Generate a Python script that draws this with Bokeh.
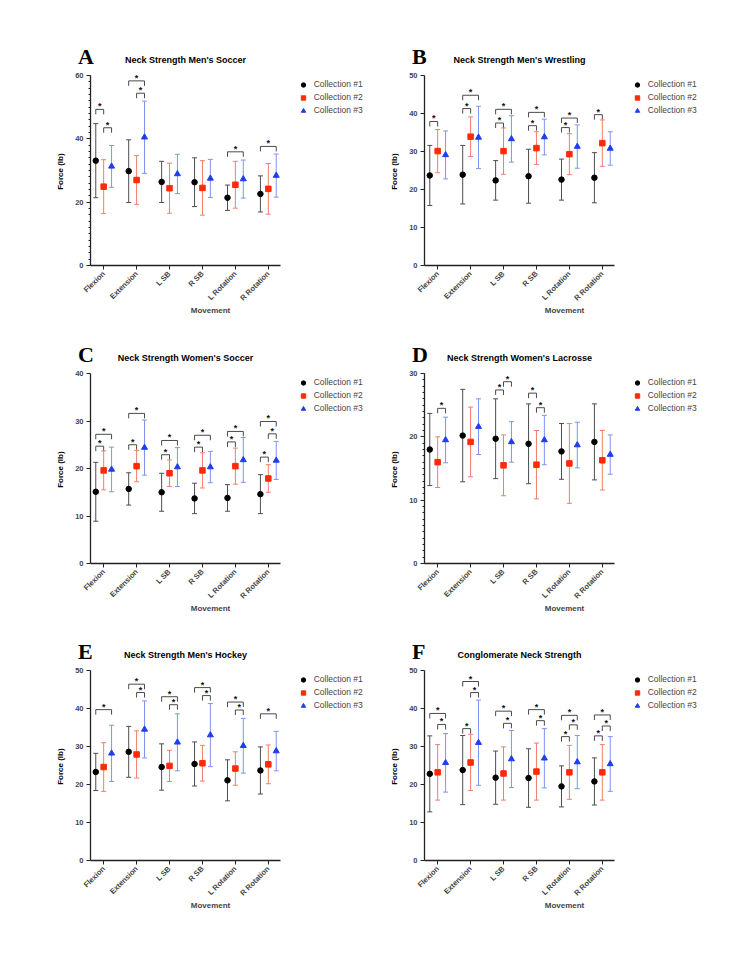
import math
from bokeh.plotting import figure
from bokeh.models import (ColumnDataSource, Legend, LegendItem, LinearAxis,
                          SingleIntervalTicker, FixedTicker, Range1d)
from bokeh.layouts import row, column
from bokeh.embed import file_html
from bokeh.resources import INLINE
from bokeh.core.properties import value

movements = ["Flexion", "Extension", "L SB", "R SB", "L Rotation", "R Rotation"]
collections = ["Collection #1", "Collection #2", "Collection #3"]

# ---- Panel A: Men's Soccer ----
A_c1_mean = [33.1, 29.8, 26.4, 26.3, 21.4, 22.6]
A_c1_sd = [11.7, 9.9, 6.5, 7.7, 4.0, 5.7]
A_c2_mean = [24.9, 27.0, 24.4, 24.5, 25.5, 24.2]
A_c2_sd = [8.5, 7.7, 7.9, 8.6, 7.4, 8.0]
A_c3_mean = [31.3, 40.5, 28.9, 27.5, 27.3, 28.4]
A_c3_sd = [6.6, 11.4, 6.2, 6.0, 6.0, 6.8]
A_brackets = [(0, 0, 1, 49.3), (0, 1, 2, 43.5), (1, 0, 2, 58.3), (1, 1, 2, 54.4),
              (4, 0, 2, 35.9), (5, 0, 2, 37.6)]

# ---- Panel B: Men's Wrestling ----
B_c1_mean = [23.7, 23.9, 22.4, 23.5, 22.6, 23.1]
B_c1_sd = [7.9, 7.7, 5.2, 7.1, 5.4, 6.6]
B_c2_mean = [30.1, 33.9, 30.1, 30.9, 29.3, 32.2]
B_c2_sd = [5.7, 5.2, 6.1, 4.3, 5.4, 6.1]
B_c3_mean = [29.1, 33.7, 33.3, 33.8, 31.3, 30.8]
B_c3_sd = [6.3, 8.2, 6.1, 4.7, 5.7, 4.4]
B_brackets = [(0, 0, 1, 37.9), (1, 0, 2, 44.8), (1, 0, 1, 41.3), (2, 0, 2, 41.1),
              (2, 0, 1, 37.5), (3, 0, 2, 40.3), (3, 0, 1, 36.8), (4, 0, 2, 38.8),
              (4, 0, 1, 36.3), (5, 0, 1, 39.7)]

# ---- Panel C: Women's Soccer ----
C_c1_mean = [15.1, 15.7, 15.0, 13.7, 13.8, 14.6]
C_c1_sd = [6.2, 3.4, 4.0, 3.2, 2.8, 4.1]
C_c2_mean = [19.6, 20.5, 19.0, 19.6, 20.5, 17.9]
C_c2_sd = [4.1, 3.3, 2.8, 3.7, 3.8, 2.9]
C_c3_mean = [19.8, 24.4, 20.3, 20.3, 21.8, 21.7]
C_c3_sd = [4.7, 5.8, 4.1, 3.3, 4.7, 4.0]
C_brackets = [(0, 0, 2, 27.2), (0, 0, 1, 24.7), (1, 0, 2, 31.6), (1, 0, 1, 25.0),
              (2, 0, 2, 25.9), (2, 0, 1, 22.9), (3, 0, 2, 27.0), (3, 0, 1, 24.5),
              (4, 0, 2, 27.8), (4, 0, 1, 25.6), (5, 0, 2, 29.9), (5, 1, 2, 27.3),
              (5, 0, 1, 22.4)]

# ---- Panel D: Women's Lacrosse ----
D_c1_mean = [18.0, 20.2, 19.7, 18.9, 17.7, 19.2]
D_c1_sd = [5.7, 7.3, 6.3, 6.3, 4.4, 6.0]
D_c2_mean = [16.0, 19.2, 15.5, 15.6, 15.8, 16.3]
D_c2_sd = [4.0, 5.5, 4.8, 5.4, 6.3, 4.7]
D_c3_mean = [19.5, 21.6, 19.2, 19.5, 18.7, 17.2]
D_c3_sd = [3.6, 4.4, 3.2, 3.9, 3.6, 3.1]
D_brackets = [(0, 1, 2, 24.5), (2, 0, 1, 27.4), (2, 1, 2, 28.7), (3, 0, 1, 26.9),
              (3, 1, 2, 24.6)]

# ---- Panel E: Men's Hockey ----
E_c1_mean = [23.3, 28.6, 24.6, 25.4, 21.1, 23.7]
E_c1_sd = [4.9, 6.7, 6.1, 5.8, 5.4, 6.2]
E_c2_mean = [24.6, 27.9, 24.9, 25.6, 24.2, 25.3]
E_c2_sd = [6.4, 6.2, 4.1, 4.7, 4.4, 5.1]
E_c3_mean = [28.2, 34.5, 31.1, 33.0, 30.2, 28.8]
E_c3_sd = [7.4, 7.5, 7.5, 8.3, 7.2, 5.2]
E_brackets = [(0, 0, 2, 39.7), (1, 0, 2, 46.4), (1, 1, 2, 44.2), (2, 0, 2, 43.1),
              (2, 1, 2, 41.0), (3, 0, 2, 45.5), (3, 1, 2, 43.4), (4, 0, 2, 41.7),
              (4, 1, 2, 39.6), (5, 0, 2, 38.6)]

# ---- Panel F: Conglomerate ----
F_c1_mean = [22.8, 23.8, 21.8, 21.7, 19.5, 20.8]
F_c1_sd = [10.0, 9.1, 7.0, 7.7, 5.4, 6.2]
F_c2_mean = [23.2, 25.8, 22.9, 23.4, 23.2, 23.2]
F_c2_sd = [7.3, 7.4, 7.0, 7.5, 7.1, 7.3]
F_c3_mean = [25.7, 31.0, 26.7, 26.9, 25.9, 25.4]
F_c3_sd = [7.7, 11.2, 7.5, 7.8, 7.0, 7.2]
F_brackets = [(0, 0, 2, 38.7), (0, 1, 2, 35.8), (1, 0, 2, 47.1), (1, 1, 2, 44.2),
              (1, 0, 1, 34.7), (2, 0, 2, 39.3), (2, 1, 2, 36.1), (3, 0, 2, 39.7),
              (3, 1, 2, 36.8), (4, 0, 2, 38.2), (4, 1, 2, 35.7), (4, 0, 1, 32.6),
              (5, 0, 2, 38.3), (5, 1, 2, 35.4), (5, 0, 1, 32.8)]

panels = [
    dict(letter="A", title="Neck Strength Men's Soccer", ymax=60, interval=20, minor=10,
         means=[A_c1_mean, A_c2_mean, A_c3_mean], sds=[A_c1_sd, A_c2_sd, A_c3_sd], br=A_brackets),
    dict(letter="B", title="Neck Strength Men's Wrestling", ymax=50, interval=10, minor=0,
         means=[B_c1_mean, B_c2_mean, B_c3_mean], sds=[B_c1_sd, B_c2_sd, B_c3_sd], br=B_brackets),
    dict(letter="C", title="Neck Strength Women's Soccer", ymax=40, interval=10, minor=0,
         means=[C_c1_mean, C_c2_mean, C_c3_mean], sds=[C_c1_sd, C_c2_sd, C_c3_sd], br=C_brackets),
    dict(letter="D", title="Neck Strength Women's Lacrosse", ymax=30, interval=10, minor=10,
         means=[D_c1_mean, D_c2_mean, D_c3_mean], sds=[D_c1_sd, D_c2_sd, D_c3_sd], br=D_brackets),
    dict(letter="E", title="Neck Strength Men's Hockey", ymax=50, interval=10, minor=0,
         means=[E_c1_mean, E_c2_mean, E_c3_mean], sds=[E_c1_sd, E_c2_sd, E_c3_sd], br=E_brackets),
    dict(letter="F", title="Conglomerate Neck Strength", ymax=50, interval=10, minor=0,
         means=[F_c1_mean, F_c2_mean, F_c3_mean], sds=[F_c1_sd, F_c2_sd, F_c3_sd], br=F_brackets),
]

# ---- styling / layout constants ----
FONT = "Liberation Sans"
OFFSETS = [-0.24, 0.0, 0.24]
MARKERS = ["circle", "square", "triangle"]
SIZES = [5.5, 5.5, 6]
MARK_COLORS = ["#000000", "#FF2A0A", "#1D3DF2"]
BAR_COLORS = ["#4d4d4d", "#F27D6C", "#7D94F0"]
AXIS_COLOR = "#222222"
X0, X1 = -0.4, 5.37          # axis extent (data)
AXIS_W = 190                  # px for axis extent
KX = AXIS_W / (X1 - X0)       # px per x unit
AXIS_H = 190                  # px for y axis 0..ymax
TOP_PAD = 30                  # px of frame above y-axis top
BOT_PAD = 6                   # px of frame below y = 0
FRAME_H = AXIS_H + TOP_PAD + BOT_PAD
# column geometry: (fig width, min_border_left, px from frame left to y axis)
COLS = [(372, 50, 40), (370, 16, 36)]
ROWS = [(45, 59), (13, 58), (13, 58)]   # (min_border_top, min_border_bottom)
YLABEL_DX = 30                # px from axis to y-label centre


def make_panel(cfg, col, rowi):
    ymax = cfg["ymax"]
    yu = ymax / AXIS_H
    fig_w, bleft, ax_dx = COLS[col]
    btop, bbot = ROWS[rowi]
    bright = 2
    frame_w = fig_w - bleft - bright
    xstart = X0 - ax_dx / KX
    xend = xstart + frame_w / KX
    ystart = -BOT_PAD * yu
    yend = ymax + TOP_PAD * yu
    p = figure(width=fig_w, height=btop + FRAME_H + bbot,
               x_range=Range1d(xstart, xend), y_range=Range1d(ystart, yend),
               min_border_left=bleft, min_border_right=bright,
               min_border_top=btop, min_border_bottom=bbot,
               output_backend="svg", toolbar_location=None)
    p.outline_line_color = None
    p.xgrid.grid_line_color = None
    p.ygrid.grid_line_color = None

    # y axis, anchored at the left end of the x axis
    ya = p.yaxis[0]
    ya.fixed_location = X0
    ya.bounds = (0, ymax)
    ya.ticker = SingleIntervalTicker(interval=cfg["interval"], num_minor_ticks=cfg["minor"])
    ya.major_label_text_font = FONT
    ya.major_label_text_font_style = "bold"
    ya.major_label_text_font_size = "7.5px"
    ya.major_label_standoff = 3
    ya.major_tick_in = 0
    ya.major_tick_out = 4
    ya.minor_tick_in = 0
    ya.minor_tick_out = 2
    ya.axis_line_width = 1.3
    ya.axis_line_color = AXIS_COLOR
    ya.major_tick_line_color = AXIS_COLOR
    ya.minor_tick_line_color = AXIS_COLOR if cfg["minor"] else None

    # x axis labels (at the frame bottom, rule hidden)
    xa = p.xaxis[0]
    xa.bounds = (X0, X1)
    xa.ticker = FixedTicker(ticks=list(range(len(movements))))
    xa.major_label_overrides = {i: m for i, m in enumerate(movements)}
    xa.major_label_orientation = math.pi / 4
    xa.major_label_text_font = FONT
    xa.major_label_text_font_style = "bold"
    xa.major_label_text_font_size = "7.5px"
    xa.major_label_standoff = 1
    xa.major_tick_in = 0
    xa.major_tick_out = 0
    xa.major_tick_line_color = None
    xa.minor_tick_line_color = None
    xa.axis_line_color = None
    xa.axis_label = "Movement"
    xa.axis_label_text_font = FONT
    xa.axis_label_text_font_style = "bold"
    xa.axis_label_text_font_size = "8px"
    xa.axis_label_standoff = -3

    # x axis rule and ticks at y = 0
    xr = LinearAxis(fixed_location=0, bounds=(X0, X1),
                    ticker=FixedTicker(ticks=list(range(len(movements)))),
                    major_label_overrides={i: "" for i in range(len(movements))},
                    major_label_text_font_size="0px", major_label_standoff=0,
                    major_tick_in=0, major_tick_out=4, minor_tick_line_color=None,
                    axis_line_width=1.3, axis_line_color=AXIS_COLOR,
                    major_tick_line_color=AXIS_COLOR)
    p.add_layout(xr, "below")

    # y axis label, panel title and panel letter (texts inside the frame)
    p.text(x=[X0 - YLABEL_DX / KX], y=[ymax / 2], text=["Force  (lb)"], angle=math.pi / 2,
           text_align="center", text_baseline="middle", text_font=value(FONT),
           text_font_style="bold", text_font_size="8px", text_color="black")
    p.text(x=[(X0 + X1) / 2], y=[ymax + 15.5 * yu], text=[cfg["title"]],
           text_align="center", text_baseline="middle", text_font=value(FONT),
           text_font_style="bold", text_font_size="9px", text_color="black")
    p.text(x=[X0 - 12.5 / KX], y=[ymax + 19.5 * yu], text=[cfg["letter"]],
           text_align="left", text_baseline="middle", text_font=value("Liberation Serif"),
           text_font_style="bold", text_font_size="22px", text_color="black")

    # significance brackets
    leg = 5 * yu
    bx, by, sx, sy = [], [], [], []
    for (cat, i, j, yb) in cfg["br"]:
        x1 = cat + OFFSETS[i]
        x2 = cat + OFFSETS[j]
        bx.append([x1, x1, x2, x2])
        by.append([yb - leg, yb, yb, yb - leg])
        sx.append((x1 + x2) / 2)
        sy.append(yb)
    p.multi_line(xs=bx, ys=by, line_color="#4a4a4a", line_width=1)
    p.text(x=sx, y=sy, text=["*"] * len(sx), text_align="center", text_baseline="bottom",
           text_font=value(FONT), text_font_style="bold", text_font_size="9px",
           text_color="#111111", y_offset=2)

    # series: error bars (segments + cap dashes) and markers
    items = []
    for k in range(3):
        xs = [i + OFFSETS[k] for i in range(len(movements))]
        m = cfg["means"][k]
        s = cfg["sds"][k]
        src = ColumnDataSource(dict(x=xs, y=m, lo=[a - b for a, b in zip(m, s)],
                                    hi=[a + b for a, b in zip(m, s)]))
        p.segment(x0="x", y0="lo", x1="x", y1="hi", source=src,
                  line_color=BAR_COLORS[k], line_width=1)
        p.scatter("x", "hi", source=src, marker="dash", size=5,
                  line_color=BAR_COLORS[k], line_width=1)
        p.scatter("x", "lo", source=src, marker="dash", size=5,
                  line_color=BAR_COLORS[k], line_width=1)
        r = p.scatter("x", "y", source=src, marker=MARKERS[k], size=SIZES[k],
                      fill_color=MARK_COLORS[k], line_color=MARK_COLORS[k])
        items.append(LegendItem(label=collections[k], renderers=[r]))

    leg_x = (X1 - xstart) * KX + 11.7
    leg_y = BOT_PAD + AXIS_H - 40.8
    legend = Legend(items=items, location=(leg_x, leg_y), glyph_width=22, glyph_height=11,
                    label_height=11, label_standoff=0, spacing=2, padding=0, margin=0,
                    border_line_color=None, background_fill_alpha=0,
                    label_text_font=FONT, label_text_font_size="8.5px")
    p.add_layout(legend)
    return p


figs = [make_panel(cfg, idx % 2, idx // 2) for idx, cfg in enumerate(panels)]
layout = column(row(figs[0], figs[1]), row(figs[2], figs[3]), row(figs[4], figs[5]))

open("out.html", "w").write(file_html(layout, INLINE))
